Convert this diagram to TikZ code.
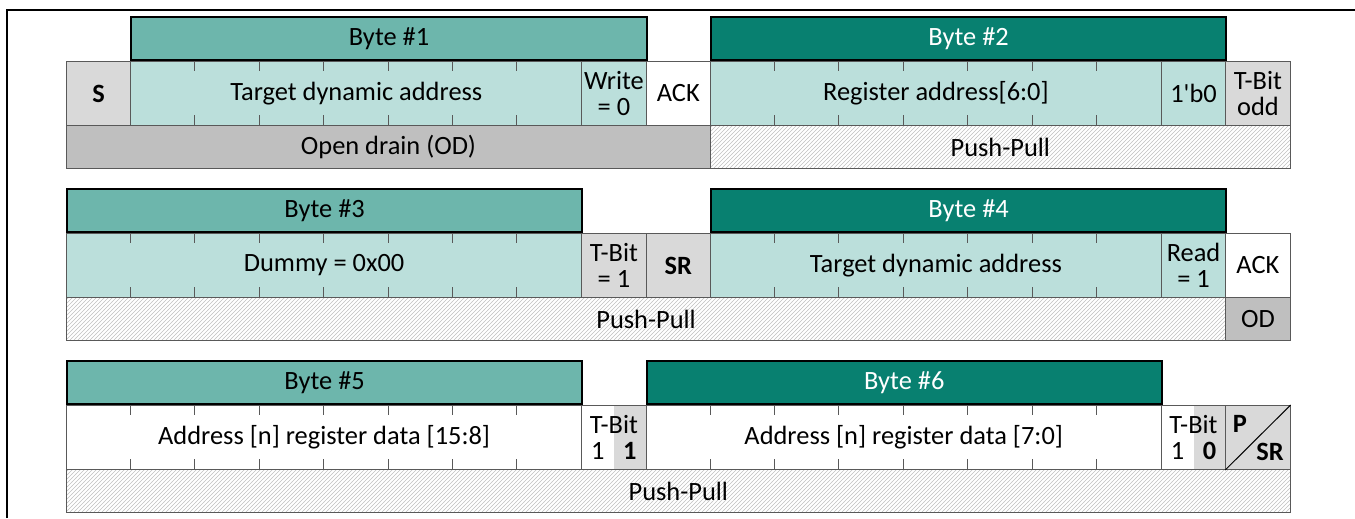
\documentclass[tikz,border=0pt]{standalone}
\usepackage{fontspec}
\setmainfont{Carlito}[Ligatures=TeXOff]
\usetikzlibrary{patterns}

\definecolor{bytelt}{HTML}{6DB6AC}
\definecolor{bytedk}{HTML}{088070}
\definecolor{celltl}{HTML}{BBDFDB}
\definecolor{cellgr}{HTML}{D9D9D9}
\definecolor{odgr}{HTML}{BFBFBF}

\tikzset{
  box/.style={draw=black!65, line width=0.75pt, inner sep=0pt, anchor=north west,
    align=center, minimum height=48pt, font=\fontsize{19.8}{19.7}\selectfont},
  bits/.style={minimum width=#1*48.3pt},
  hdr/.style={box, draw=black, line width=1.5pt, anchor=south west, minimum height=31.9pt},
  hdrlt/.style={hdr, fill=bytelt},
  hdrdk/.style={hdr, fill=bytedk, text=white},
  bar/.style={box, minimum height=32.25pt},
  pp/.style={bar, pattern=north east lines, pattern color=black!25},
  halfgray/.style={path picture={\fill[cellgr] (path picture bounding box.north)
    rectangle (path picture bounding box.south east);}},
  tick/.style={draw=black!65, line width=0.75pt},
}

\begin{document}
\begin{tikzpicture}[x=0.75pt, y=-0.75pt]
  \useasboundingbox (0,0) rectangle (1355,518);
  \draw[line width=1.5pt] (7,518) -- (7,10) -- (1355,10);

  % row 1
  \node[bar, bits=10, fill=odgr] (od1) at (66,125) {Open drain (OD)};
  \node[pp, bits=9] (pp1) at (710,125) {Push-Pull};
  \node[box, bits=1, fill=cellgr] (s) at (66,61) {\textbf{S}};
  \node[box, bits=7, fill=celltl] (addr1) at (130.4,61) {Target dynamic address};
  \node[box, bits=1, fill=celltl] (wr) at (581.2,61) {Write\\= 0};
  \node[box, bits=1, fill=white] (ack1) at (645.6,61) {ACK};
  \node[box, bits=7, fill=celltl] (reg) at (710,61) {Register address[6:0]};
  \node[box, bits=1, fill=celltl] (b0) at (1160.8,61) {1'b0};
  \node[box, bits=1, fill=cellgr] (tb1) at (1225.2,61) {T-Bit\\odd};
  \foreach \x in {1,...,6} {
    \draw[tick] (130.4+\x*64.4,61) -- ++(0,10) (130.4+\x*64.4,125) -- ++(0,-10);
    \draw[tick] (710+\x*64.4,61) -- ++(0,10) (710+\x*64.4,125) -- ++(0,-10);
  }
  \node[hdrlt, bits=8] (byte1) at (130.4,61) {Byte \#1};
  \node[hdrdk, bits=8] (byte2) at (710,61) {Byte \#2};

  % row 2
  \node[pp, bits=18] (pp2) at (66,297) {Push-Pull};
  \node[bar, bits=1, fill=odgr] (od2) at (1225.2,297) {OD};
  \node[box, bits=8, fill=celltl] (dummy) at (66,233) {Dummy = 0x00};
  \node[box, bits=1, fill=cellgr] (tb3) at (581.2,233) {T-Bit\\= 1};
  \node[box, bits=1, fill=cellgr] (sr) at (645.6,233) {\textbf{SR}};
  \node[box, bits=7, fill=celltl] (addr2) at (710,233) {Target dynamic address};
  \node[box, bits=1, fill=celltl] (rd) at (1160.8,233) {Read\\= 1};
  \node[box, bits=1, fill=white] (ack2) at (1225.2,233) {ACK};
  \foreach \x in {1,...,7}
    \draw[tick] (66+\x*64.4,233) -- ++(0,10) (66+\x*64.4,297) -- ++(0,-10);
  \foreach \x in {1,...,6}
    \draw[tick] (710+\x*64.4,233) -- ++(0,10) (710+\x*64.4,297) -- ++(0,-10);
  \node[hdrlt, bits=8] (byte3) at (66,233) {Byte \#3};
  \node[hdrdk, bits=8] (byte4) at (710,233) {Byte \#4};

  % row 3
  \node[pp, bits=19] (pp3) at (66,469) {Push-Pull};
  \node[box, bits=8, fill=white] (data1) at (66,405) {Address [n] register data [15:8]};
  \node[box, bits=1, fill=white, halfgray] (tb5) at (581.2,405)
    {T-Bit\\\makebox[24pt]{1}\makebox[24pt]{\textbf{1}}};
  \node[box, bits=8, fill=white] (data2) at (645.6,405) {Address [n] register data [7:0]};
  \node[box, bits=1, fill=white, halfgray] (tb6) at (1160.8,405)
    {T-Bit\\\makebox[24pt]{1}\makebox[24pt]{\textbf{0}}};
  \node[box, bits=1, fill=cellgr] (psr) at (1225.2,405) {};
  \draw[line width=0.75pt] (psr.south west) -- (psr.north east);
  \node[font=\fontsize{19.8}{19.7}\selectfont\bfseries] (ptxt) at (1240,424) {P};
  \node[font=\fontsize{19.8}{19.7}\selectfont\bfseries] (srtxt) at (1270,452) {SR};
  \foreach \x in {1,...,7} {
    \draw[tick] (66+\x*64.4,405) -- ++(0,10) (66+\x*64.4,469) -- ++(0,-10);
    \draw[tick] (645.6+\x*64.4,405) -- ++(0,10) (645.6+\x*64.4,469) -- ++(0,-10);
  }
  \node[hdrlt, bits=8] (byte5) at (66,405) {Byte \#5};
  \node[hdrdk, bits=8] (byte6) at (645.6,405) {Byte \#6};
\end{tikzpicture}
\end{document}
